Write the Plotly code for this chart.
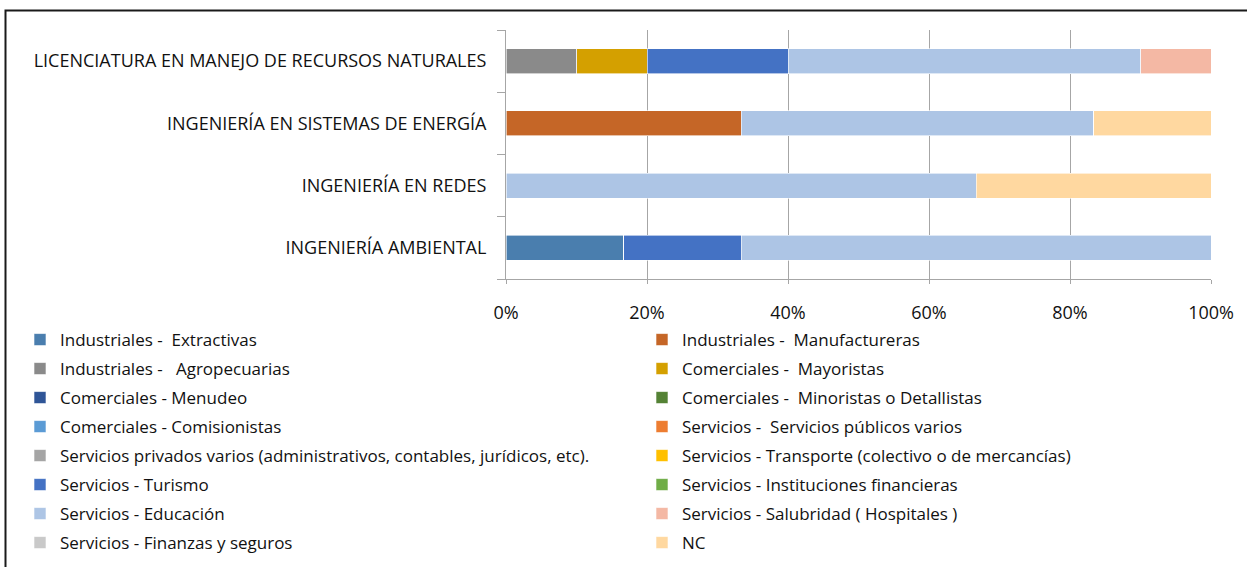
import plotly.graph_objects as go

# Carreras (bottom-to-top order on the category axis)
carreras = [
    "INGENIERÍA AMBIENTAL",
    "INGENIERÍA EN REDES",
    "INGENIERÍA EN SISTEMAS DE ENERGÍA",
    "LICENCIATURA EN MANEJO DE RECURSOS NATURALES",
]

# Sector names and colours, in series order
sectores = [
    "Industriales -  Extractivas",
    "Industriales -  Manufactureras",
    "Industriales -   Agropecuarias",
    "Comerciales -  Mayoristas",
    "Comerciales - Menudeo",
    "Comerciales -  Minoristas o Detallistas",
    "Comerciales - Comisionistas",
    "Servicios -  Servicios públicos varios",
    "Servicios privados varios (administrativos, contables, jurídicos, etc).",
    "Servicios - Transporte (colectivo o de mercancías)",
    "Servicios - Turismo",
    "Servicios - Instituciones financieras",
    "Servicios - Educación",
    "Servicios - Salubridad ( Hospitales )",
    "Servicios - Finanzas y seguros",
    "NC",
]
colores = [
    "#4A7EAE", "#C56627", "#8A8A8A", "#D4A000",
    "#2F5597", "#548235", "#5B9BD5", "#ED7D31",
    "#A5A5A5", "#FFC000", "#4472C4", "#70AD47",
    "#ADC5E5", "#F4B8A4", "#C9C9C9", "#FFD8A0",
]

# Number of graduates per sector, one list per career (same order as carreras)
conteos = {
    "Industriales -  Extractivas":           [1, 0, 0, 0],
    "Industriales -  Manufactureras":        [0, 0, 2, 0],
    "Industriales -   Agropecuarias":        [0, 0, 0, 1],
    "Comerciales -  Mayoristas":             [0, 0, 0, 1],
    "Comerciales - Menudeo":                 [0, 0, 0, 0],
    "Comerciales -  Minoristas o Detallistas": [0, 0, 0, 0],
    "Comerciales - Comisionistas":           [0, 0, 0, 0],
    "Servicios -  Servicios públicos varios": [0, 0, 0, 0],
    "Servicios privados varios (administrativos, contables, jurídicos, etc).": [0, 0, 0, 0],
    "Servicios - Transporte (colectivo o de mercancías)": [0, 0, 0, 0],
    "Servicios - Turismo":                   [1, 0, 0, 2],
    "Servicios - Instituciones financieras": [0, 0, 0, 0],
    "Servicios - Educación":                 [4, 2, 3, 5],
    "Servicios - Salubridad ( Hospitales )": [0, 0, 0, 1],
    "Servicios - Finanzas y seguros":        [0, 0, 0, 0],
    "NC":                                    [0, 1, 1, 0],
}

x_ticks = [0, 20, 40, 60, 80, 100]
x_ticktext = ["0%", "20%", "40%", "60%", "80%", "100%"]

FONT = "Open Sans"
W, H = 1247, 567
L, R, T, B = 506, 36, 30, 288
pw, ph = W - L - R, H - T - B


def px_x(p):
    return (p - L) / pw


def px_y(p):
    return (H - B - p) / ph


fig = go.Figure()
for i, (nombre, color) in enumerate(zip(sectores, colores)):
    fig.add_trace(go.Bar(
        y=carreras,
        x=conteos[nombre],
        name=nombre.replace("  ", "\u00a0 "),
        orientation="h",
        marker=dict(color=color, line=dict(color="white", width=0.6)),
        legend="legend" if i % 2 == 0 else "legend2",
        legendgroup=f"g{i}",
        hoverinfo="name+x",
    ))

leg_common = dict(
    orientation="v",
    yanchor="top",
    y=px_y(322),
    bgcolor="rgba(0,0,0,0)",
    font=dict(family=FONT, size=17, color="#111111"),
    tracegroupgap=3.9,
    traceorder="grouped",
)

fig.update_layout(
    width=W,
    height=H,
    margin=dict(l=L, r=R, t=T, b=B, autoexpand=False),
    paper_bgcolor="white",
    plot_bgcolor="white",
    barmode="stack",
    barnorm="percent",
    bargap=0.6,
    font=dict(family=FONT, size=18, color="#111111"),
    legend=dict(x=px_x(20), xanchor="left", **leg_common),
    legend2=dict(x=px_x(642), xanchor="left", **leg_common),
    xaxis=dict(
        range=[0, 100],
        tickvals=x_ticks,
        ticktext=x_ticktext,
        showgrid=True,
        gridcolor="#A6A6A6",
        gridwidth=1,
        showline=True,
        linecolor="#A6A6A6",
        ticks="outside",
        ticklen=4,
        tickcolor="#A6A6A6",
        tickfont=dict(family=FONT, size=18),
        ticklabelstandoff=13,
        zeroline=False,
        fixedrange=True,
    ),
    yaxis=dict(
        categoryorder="array",
        categoryarray=carreras,
        showline=True,
        linecolor="#A6A6A6",
        ticks="outside",
        tickson="boundaries",
        ticklen=8,
        tickcolor="#A6A6A6",
        tickfont=dict(family=FONT, size=18),
        ticklabelstandoff=15,
        fixedrange=True,
    ),
    shapes=[dict(
        type="rect",
        xref="paper", yref="paper",
        x0=px_x(5.5), x1=px_x(1270),
        y0=px_y(10.5), y1=px_y(600),
        line=dict(color="#1a1a1a", width=2),
        fillcolor="rgba(0,0,0,0)",
        layer="below",
    )],
)

fig.write_html("out.html")
